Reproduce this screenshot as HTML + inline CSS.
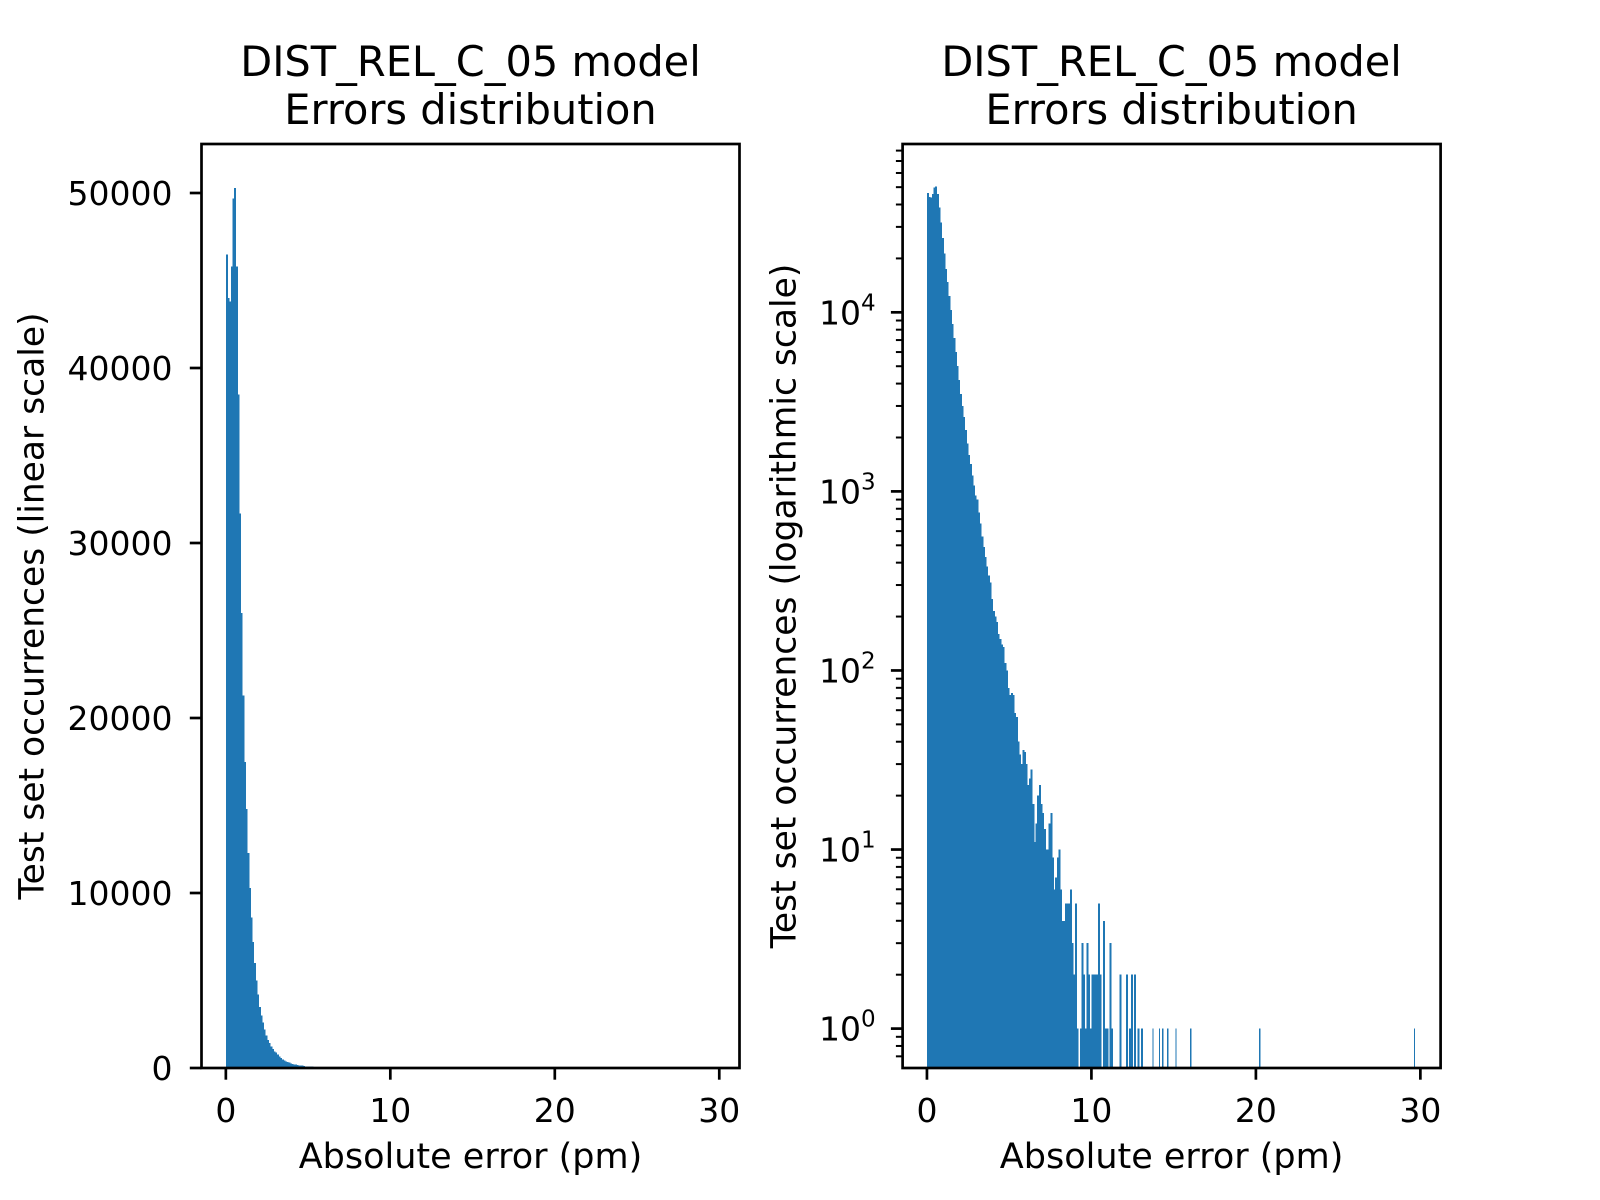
<!DOCTYPE html>
<html><head><meta charset="utf-8"><style>
html,body{margin:0;padding:0;background:#fff;}
svg{display:block;font-family:"DejaVu Sans","Liberation Sans",sans-serif;}
</style></head><body>
<svg id="chart" width="1600" height="1200" viewBox="0 0 1600 1200" xmlns="http://www.w3.org/2000/svg">
<rect width="1600" height="1200" fill="#fff"/>
<g id="left"></g>
<g id="right"></g>
</svg>
<script>
const binWidth = 0.1;
const counts = [46500,44000,43800,45800,49700,50300,45800,38500,31700,26000,
21300,17500,14800,12300,10300,8600,7200,6000,5000,4200,
3500,3000,2600,2200,1850,1600,1420,1230,1080,950,
900,760,660,560,490,430,380,340,310,250,
215,200,186,160,150,140,135,110,100,80,
73,75,73,58,55,40,34,30,36,35,
30,23,25,28,18,11,14,20,23,18,
16,13,10,10,14,16,9,6,7,9,
10,6,4,4,5,5,5,6,3,2,
5,1,0,1,3,2,1,3,2,1,
2,2,2,2,5,2,0,4,1,1,
0,3,1,0,0,0,0,2,0,0,
0,2,0,1,2,0,2,0,1,0,1];
const outlierX = [13.7,14.1,14.3,14.6,15.1,16.0,20.2,29.6];
const outlierCount = [1,1,1,1,1,1,1,1];
const xTicks = [0,10,20,30];
const linTicks = [0,10000,20000,30000,40000,50000];
const logTicks = [0,1,2,3,4];

const NS="http://www.w3.org/2000/svg";
function mk(parent,tag,attrs){const e=document.createElementNS(NS,tag);for(const k in attrs)e.setAttribute(k,attrs[k]);parent.appendChild(e);return e;}

const T=144,B=1068,W=538;
const xMin=-1.48,xMax=31.23;
function panel(g,L,isLog){
  const xs=v=>L+(v-xMin)/(xMax-xMin)*W;
  const lMin=-0.22,lMax=4.94;
  const ys=isLog? v=>B-(Math.log10(v)-lMin)/(lMax-lMin)*(B-T) : v=>B-(v/52800)*(B-T);
  const bars=mk(g,'g',{});
  
  
  const allX=[],allC=[];
  counts.forEach((c,i)=>{allX.push(i*binWidth);allC.push(c);});
  outlierX.forEach((x,i)=>{allX.push(x);allC.push(outlierCount[i]);});
  allX.forEach((x,i)=>{
    const c=allC[i]; if(c<=0) return;
    const x0=xs(x),x1=xs(x+binWidth*(i<counts.length?1:0.6));
    const top=Math.max(T,ys(c));
    const r=mk(bars,'rect',{x:x0,y:top,width:Math.max(1,x1-x0+0.4),height:B-top,fill:'#1f77b4','shape-rendering':'crispEdges'});
    
    
  });
  const fr=mk(g,'rect',{x:L,y:T,width:W,height:B-T,fill:'none',stroke:'#000','stroke-width':2.7});
  
  
  xTicks.forEach(v=>{
    const x=xs(v);
    mk(g,'line',{x1:x,x2:x,y1:B,y2:B+11.7,stroke:'#000','stroke-width':2.7});
    const t=mk(g,'text',{x:x,y:B+54,'font-size':33,'text-anchor':'middle'});
    t.textContent=v;
    
    
  });
  if(!isLog){
    linTicks.forEach(v=>{
      const y=ys(v);
      mk(g,'line',{x1:L,x2:L-11.7,y1:y,y2:y,stroke:'#000','stroke-width':2.7});
      const t=mk(g,'text',{x:L-29,y:y+12,'font-size':33,'text-anchor':'end'});
      t.textContent=v;
      
      
    });
  } else {
    for(let k=-1;k<=4;k++){for(let m=2;m<=9;m++){const v=m*Math.pow(10,k);const y=ys(v);if(y<T||y>B)continue;
      mk(g,'line',{x1:L,x2:L-6.7,y1:y,y2:y,stroke:'#000','stroke-width':2});}}
    logTicks.forEach(k=>{
      const y=ys(Math.pow(10,k));
      mk(g,'line',{x1:L,x2:L-11.7,y1:y,y2:y,stroke:'#000','stroke-width':2.7});
      const t=mk(g,'text',{x:L-27,y:y+12,'font-size':33,'text-anchor':'end'});
      
      
      const a=mk(t,'tspan',{});a.textContent='10';
      const s=mk(t,'tspan',{dy:-14,'font-size':23});s.textContent=k;
    });
  }
  const cx=L+W/2;
  const t1=mk(g,'text',{x:cx,y:76,'font-size':41.5,'text-anchor':'middle'});
  t1.textContent='DIST_REL_C_05 model';
  
  
  const t2=mk(g,'text',{x:cx,y:124,'font-size':41.5,'text-anchor':'middle'});
  t2.textContent='Errors distribution';
  
  
  const xl=mk(g,'text',{x:cx,y:1168,'font-size':35,'text-anchor':'middle'});
  xl.textContent='Absolute error (pm)';
  
  
  const yx=isLog?786:34, yc=(T+B)/2;
  const yl=mk(g,'text',{x:yx,y:yc,'font-size':34.5,'text-anchor':'middle',transform:`rotate(-90 ${yx} ${yc})`,'dominant-baseline':'middle'});
  yl.textContent=isLog?'Test set occurrences (logarithmic scale)':'Test set occurrences (linear scale)';
  
  
}
panel(document.getElementById('left'),201.5,false);
panel(document.getElementById('right'),902.6,true);
</script>
</body></html>
